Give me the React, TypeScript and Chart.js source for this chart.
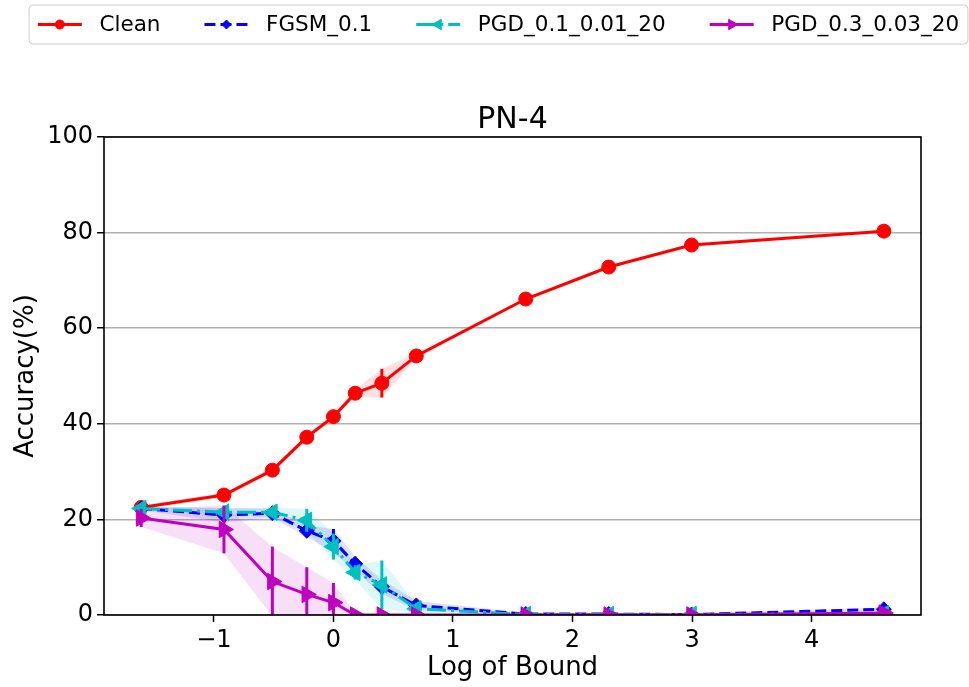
import React, { useEffect, useRef } from "react";
import { Chart, registerables } from "chart.js";
import { drawPoint } from "chart.js/helpers";

Chart.register(...registerables);

// ---- data ----
const logBound = [-1.609, -0.916, -0.511, -0.223, 0, 0.182, 0.405, 0.693, 1.609, 2.303, 2.996, 4.605];
const seriesNames = ["Clean", "FGSM_0.1", "PGD_0.1_0.01_20", "PGD_0.3_0.03_20"];
const cleanAcc = [22.5, 25.1, 30.3, 37.2, 41.5, 46.4, 48.5, 54.2, 66.1, 72.8, 77.4, 80.3];
const cleanStd = [0.4, 0.5, 0.5, 0.6, 0.6, 0.7, 3.0, 0.6, 0.3, 0.3, 0.3, 0.3];
const fgsmAcc = [22.3, 20.9, 21.3, 17.6, 15.5, 10.7, 5.9, 2.0, 0.2, 0.2, 0.1, 1.2];
const fgsmStd = [0.4, 1.5, 1.0, 1.2, 2.5, 1.5, 1.5, 1.0, 0.2, 0.2, 0.2, 0.3];
const pgd1Acc = [22.3, 21.5, 21.5, 19.8, 14.3, 8.9, 6.3, 1.3, 0.1, 0.1, 0.1, 0.3];
const pgd1Std = [0.4, 0.8, 1.0, 2.4, 2.7, 1.5, 5.1, 1.0, 0.1, 0.1, 0.1, 0.2];
const pgd3Acc = [20.3, 17.9, 7.0, 4.3, 2.6, 0.0, 0.0, 0.0, 0.0, 0.0, 0.0, 0.4];
const pgd3Std = [1.9, 5.0, 7.3, 5.7, 4.1, 0.3, 0.1, 0.1, 0.1, 0.1, 0.1, 0.2];
const xTicks = [-1, 0, 1, 2, 3, 4];
const yTicks = [0, 20, 40, 60, 80, 100];
const chartTitle = "PN-4";

const means = [cleanAcc, fgsmAcc, pgd1Acc, pgd3Acc];
const stds = [cleanStd, fgsmStd, pgd1Std, pgd3Std];

// ---- styles ----
const FONT = "'DejaVu Sans', 'Liberation Sans', sans-serif";
const colors = ["#ff0000", "#0000ff", "#00bfbf", "#bf00bf"];
const bandColors = ["rgba(255,0,0,0.12)", "rgba(0,0,255,0.12)", "rgba(0,191,191,0.12)", "rgba(191,0,191,0.12)"];
const dashes: number[][] = [[], [11, 5], [19, 5, 3, 5], []];
const pointStyles = ["circle", "rectRot", "triangle", "triangle"];
const rotations = [0, 0, -90, 90];
const radii = [7, 7.5, 9.5, 9.5];
const legendRadii = [4.5, 4.5, 6, 6];

const errorBarPlugin = {
  id: "errorBars",
  beforeDatasetDraw(chart: any, args: any) {
    const i = args.index;
    if (i >= seriesNames.length) return;
    const { ctx, chartArea } = chart;
    const xs = chart.scales.x;
    const ys = chart.scales.y;
    ctx.save();
    ctx.beginPath();
    ctx.rect(chartArea.left, chartArea.top, chartArea.right - chartArea.left, chartArea.bottom - chartArea.top);
    ctx.clip();
    ctx.strokeStyle = colors[i];
    ctx.lineWidth = 3;
    ctx.setLineDash([]);
    means[i].forEach((m, k) => {
      const px = xs.getPixelForValue(logBound[k]);
      ctx.beginPath();
      ctx.moveTo(px, ys.getPixelForValue(m - stds[i][k]));
      ctx.lineTo(px, ys.getPixelForValue(m + stds[i][k]));
      ctx.stroke();
    });
    ctx.restore();
  },
};

const framePlugin = {
  id: "frame",
  afterDatasetsDraw(chart: any) {
    const { ctx, chartArea } = chart;
    ctx.save();
    ctx.strokeStyle = "#000000";
    ctx.lineWidth = 1.6;
    ctx.setLineDash([]);
    ctx.strokeRect(chartArea.left, chartArea.top, chartArea.right - chartArea.left, chartArea.bottom - chartArea.top);
    // title centred over the axes box
    ctx.fillStyle = "#000000";
    ctx.font = `30px ${FONT}`;
    ctx.textAlign = "center";
    ctx.textBaseline = "alphabetic";
    ctx.fillText(chartTitle, (chartArea.left + chartArea.right) / 2, chartArea.top - 9);
    ctx.restore();
  },
};

const legendPlugin = {
  id: "mplLegend",
  afterDraw(chart: any) {
    const ctx = chart.ctx;
    ctx.save();
    const fs = 22;
    ctx.font = `21.5px ${FONT}`;
    const handleLen = 2 * fs;
    const handlePad = 0.8 * fs;
    const colSpace = 2 * fs;
    const borderPad = 0.4 * fs;
    const widths = seriesNames.map((n) => ctx.measureText(n).width);
    const total =
      borderPad * 2 +
      widths.reduce((a, w) => a + handleLen + handlePad + w, 0) +
      colSpace * (seriesNames.length - 1);
    const centerX = 498.5;
    const left = centerX - total / 2;
    const top = 5;
    const bottom = 44;
    const r = 4;
    ctx.beginPath();
    ctx.moveTo(left + r, top);
    ctx.lineTo(left + total - r, top);
    ctx.arcTo(left + total, top, left + total, top + r, r);
    ctx.lineTo(left + total, bottom - r);
    ctx.arcTo(left + total, bottom, left + total - r, bottom, r);
    ctx.lineTo(left + r, bottom);
    ctx.arcTo(left, bottom, left, bottom - r, r);
    ctx.lineTo(left, top + r);
    ctx.arcTo(left, top, left + r, top, r);
    ctx.closePath();
    ctx.fillStyle = "rgba(255,255,255,0.8)";
    ctx.fill();
    ctx.strokeStyle = "#cccccc";
    ctx.lineWidth = 1;
    ctx.stroke();

    const cy = (top + bottom) / 2;
    let x = left + borderPad;
    seriesNames.forEach((name, i) => {
      ctx.strokeStyle = colors[i];
      ctx.fillStyle = colors[i];
      ctx.lineWidth = 3;
      ctx.setLineDash(dashes[i]);
      ctx.beginPath();
      ctx.moveTo(x, cy);
      ctx.lineTo(x + handleLen, cy);
      ctx.stroke();
      ctx.setLineDash([]);
      ctx.lineWidth = 1;
      drawPoint(ctx, { pointStyle: pointStyles[i], rotation: rotations[i], radius: legendRadii[i], borderWidth: 1 } as any, x + handleLen / 2, cy);
      ctx.fillStyle = "#000000";
      ctx.textBaseline = "middle";
      ctx.textAlign = "left";
      ctx.fillText(name, x + handleLen + handlePad, cy + 1);
      x += handleLen + handlePad + widths[i] + colSpace;
    });
    ctx.restore();
  },
};

export default function App() {
  const canvasRef = useRef<HTMLCanvasElement | null>(null);

  useEffect(() => {
    document.body.style.margin = "0";
    const canvas = canvasRef.current;
    if (!canvas) return;

    const range = logBound[logBound.length - 1] - logBound[0];
    const xMin = logBound[0] - 0.05 * range;
    const xMax = logBound[logBound.length - 1] + 0.05 * range;

    const mainSets = seriesNames.map((name, i) => ({
      label: name,
      data: logBound.map((x, k) => ({ x, y: means[i][k] })),
      borderColor: colors[i],
      backgroundColor: colors[i],
      borderWidth: 3,
      borderDash: dashes[i],
      pointStyle: pointStyles[i],
      rotation: rotations[i],
      pointRadius: radii[i],
      pointBorderWidth: 1,
      pointBorderColor: colors[i],
      pointBackgroundColor: colors[i],
      fill: false,
      tension: 0,
      clip: 0,
      order: 10 + (seriesNames.length - i),
    }));

    const bandSets: any[] = [];
    seriesNames.forEach((name, i) => {
      const lowerIndex = seriesNames.length + bandSets.length;
      bandSets.push({
        label: name + "_lower",
        data: logBound.map((x, k) => ({ x, y: means[i][k] - stds[i][k] })),
        borderWidth: 0,
        borderColor: "rgba(0,0,0,0)",
        pointRadius: 0,
        fill: false,
        clip: 0,
        order: 100,
      });
      bandSets.push({
        label: name + "_upper",
        data: logBound.map((x, k) => ({ x, y: means[i][k] + stds[i][k] })),
        borderWidth: 0,
        borderColor: "rgba(0,0,0,0)",
        backgroundColor: bandColors[i],
        pointRadius: 0,
        fill: lowerIndex,
        clip: 0,
        order: 100,
      });
    });

    const chart = new Chart(canvas, {
      type: "line",
      data: { datasets: [...mainSets, ...bandSets] as any },
      plugins: [errorBarPlugin, framePlugin, legendPlugin],
      options: {
        animation: false,
        responsive: false,
        devicePixelRatio: 1,
        layout: { padding: { left: 0, right: 48, top: 137, bottom: 0 } },
        plugins: {
          legend: { display: false },
          tooltip: { enabled: false },
          filler: { drawTime: "beforeDatasetsDraw", propagate: false },
          title: { display: false },
        },
        scales: {
          x: {
            type: "linear",
            min: xMin,
            max: xMax,
            afterBuildTicks: (axis: any) => {
              axis.ticks = xTicks.map((v) => ({ value: v }));
            },
            afterFit: (axis: any) => {
              axis.height = 72;
            },
            ticks: {
              color: "#000000",
              font: { family: FONT, size: 24 },
              padding: 4,
              maxRotation: 0,
              autoSkip: false,
              callback: (v: any) => (Number(v) < 0 ? "\u2212" + Math.abs(Number(v)) : String(v)),
            },
            grid: {
              display: true,
              drawOnChartArea: false,
              drawTicks: true,
              tickLength: 7,
              tickColor: "#000000",
              tickWidth: 1.5,
            },
            border: { display: false },
            title: {
              display: true,
              text: "Log of Bound",
              color: "#000000",
              font: { family: FONT, size: 26, lineHeight: 1.2 },
              padding: { top: 0, bottom: 3 },
            },
          },
          y: {
            type: "linear",
            min: 0,
            max: 100,
            afterBuildTicks: (axis: any) => {
              axis.ticks = yTicks.map((v) => ({ value: v }));
            },
            afterFit: (axis: any) => {
              axis.width = 104;
            },
            ticks: {
              color: "#000000",
              font: { family: FONT, size: 24 },
              padding: 4,
            },
            grid: {
              display: true,
              drawOnChartArea: true,
              color: "#b0b0b0",
              lineWidth: 1.5,
              drawTicks: true,
              tickLength: 7,
              tickColor: "#000000",
              tickWidth: 1.5,
            },
            border: { display: false },
            title: {
              display: true,
              text: "Accuracy(%)",
              color: "#000000",
              font: { family: FONT, size: 26, lineHeight: 1.2 },
              padding: { top: 10.5, bottom: 0 },
            },
          },
        },
      } as any,
    });

    return () => chart.destroy();
  }, []);

  return (
    <div style={{ position: "absolute", left: 0, top: 0, width: 969, height: 687, background: "#ffffff" }}>
      <canvas ref={canvasRef} width={969} height={687} style={{ display: "block", width: 969, height: 687 }} />
    </div>
  );
}
